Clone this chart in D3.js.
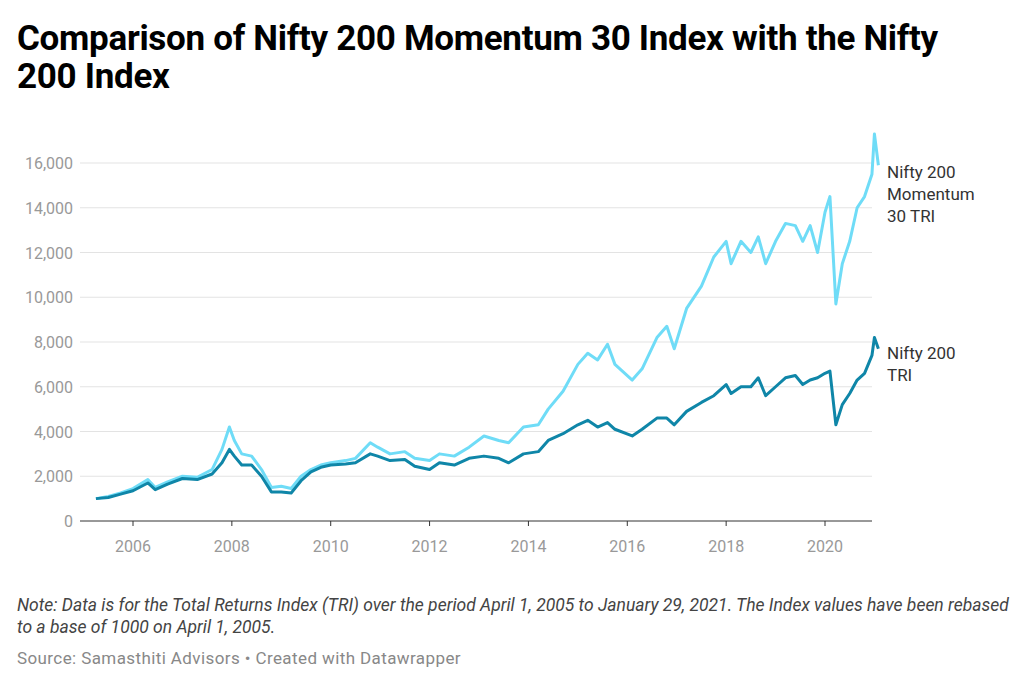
<!DOCTYPE html>
<html><head><meta charset="utf-8">
<script src="https://cdn.jsdelivr.net/npm/d3@7"></script>
<style>
body{margin:0;background:#fff;font-family:Roboto,sans-serif;}
h1{position:absolute;left:17px;top:20px;margin:0;font-size:35px;line-height:38px;font-weight:700;color:#000;width:985px;letter-spacing:-0.3px}
.note{position:absolute;left:17px;top:594px;font-size:17.5px;font-style:italic;color:#444;line-height:22px;width:995px}
.src{position:absolute;left:17px;top:648px;font-size:17px;color:#888;letter-spacing:0.4px}
</style></head><body>
<h1>Comparison of Nifty 200 Momentum 30 Index with the Nifty 200 Index</h1>
<svg id="c" width="1024" height="580" style="position:absolute;left:0;top:0"></svg>
<div class="note">Note: Data is for the Total Returns Index (TRI) over the period April 1, 2005 to January 29, 2021. The Index values have been rebased to a base of 1000 on April 1, 2005.</div>
<div class="src">Source: Samasthiti Advisors • Created with Datawrapper</div>
<script>
// decimal years
var dates = [2005.25,2005.5,2005.75,2006.0,2006.3,2006.45,2006.7,2007.0,2007.3,2007.6,2007.8,2007.95,2008.05,2008.2,2008.4,2008.6,2008.8,2009.0,2009.2,2009.4,2009.6,2009.8,2010.0,2010.3,2010.5,2010.8,2010.95,2011.2,2011.5,2011.7,2012.0,2012.2,2012.5,2012.8,2013.1,2013.4,2013.6,2013.9,2014.2,2014.4,2014.7,2015.0,2015.2,2015.4,2015.6,2015.75,2016.1,2016.3,2016.6,2016.8,2016.95,2017.2,2017.5,2017.75,2018.0,2018.1,2018.3,2018.5,2018.65,2018.8,2019.0,2019.2,2019.4,2019.55,2019.7,2019.85,2020.0,2020.1,2020.22,2020.35,2020.5,2020.65,2020.8,2020.95,2021.0,2021.08];
var momentum = [1000,1100,1250,1450,1850,1500,1750,2000,1950,2300,3200,4200,3600,3000,2900,2300,1500,1550,1450,2000,2300,2500,2600,2700,2800,3500,3300,3000,3100,2800,2700,3000,2900,3300,3800,3600,3500,4200,4300,5000,5800,7000,7500,7200,7900,7000,6300,6800,8200,8700,7700,9500,10500,11800,12500,11500,12500,12000,12700,11500,12500,13300,13200,12500,13200,12000,13800,14500,9700,11500,12500,14000,14500,15500,17300,15900];
var nifty200 = [1000,1050,1200,1350,1700,1400,1650,1900,1850,2100,2600,3200,2900,2500,2500,2000,1300,1300,1250,1800,2200,2400,2500,2550,2600,3000,2900,2700,2750,2450,2300,2600,2500,2800,2900,2800,2600,3000,3100,3600,3900,4300,4500,4200,4400,4100,3800,4100,4600,4600,4300,4900,5300,5600,6100,5700,6000,6000,6400,5600,6000,6400,6500,6100,6300,6400,6600,6700,4300,5200,5700,6300,6600,7400,8200,7700];
var yTicks = [0,2000,4000,6000,8000,10000,12000,14000,16000];
var xTicks = [2006,2008,2010,2012,2014,2016,2018,2020];

var svg = d3.select("#c");
var x = d3.scaleLinear().domain([2006,2020]).range([133,825]);
var y = d3.scaleLinear().domain([0,16000]).range([521,163]);

var g = svg.append("g");
g.selectAll("line.grid").data(yTicks).enter().append("line")
  .attr("x1",80).attr("x2",872).attr("y1",y).attr("y2",y)
  .attr("stroke",function(d){return d===0?"#333":"#e3e3e3";}).attr("stroke-width",1);
g.selectAll("text.yt").data(yTicks).enter().append("text")
  .attr("x",73).attr("y",function(d){return y(d)+6;}).attr("text-anchor","end")
  .attr("font-size",16).attr("fill","#999").text(d3.format(","));
g.selectAll("line.xt").data(xTicks).enter().append("line")
  .attr("x1",x).attr("x2",x).attr("y1",521).attr("y2",526).attr("stroke","#333");
g.selectAll("text.xt").data(xTicks).enter().append("text")
  .attr("x",x).attr("y",552).attr("text-anchor","middle")
  .attr("font-size",16).attr("fill","#999").text(String);

var line = d3.line().x(function(d){return x(d[0]);}).y(function(d){return y(d[1]);});
function pairs(v){return dates.map(function(d,i){return [d,v[i]];});}
svg.append("path").attr("d",line(pairs(momentum))).attr("fill","none")
  .attr("stroke","#6fdcf7").attr("stroke-width",3).attr("stroke-linejoin","round");
svg.append("path").attr("d",line(pairs(nifty200))).attr("fill","none")
  .attr("stroke","#0f86a8").attr("stroke-width",3).attr("stroke-linejoin","round");

function label(lines, top){
  var t = svg.append("text").attr("x",887).attr("y",top).attr("font-size",17).attr("fill","#333");
  lines.forEach(function(s,i){t.append("tspan").attr("x",887).attr("dy",i?22:0).text(s);});
}
label(["Nifty 200","Momentum","30 TRI"],178);
label(["Nifty 200","TRI"],359);
</script>
</body></html>
